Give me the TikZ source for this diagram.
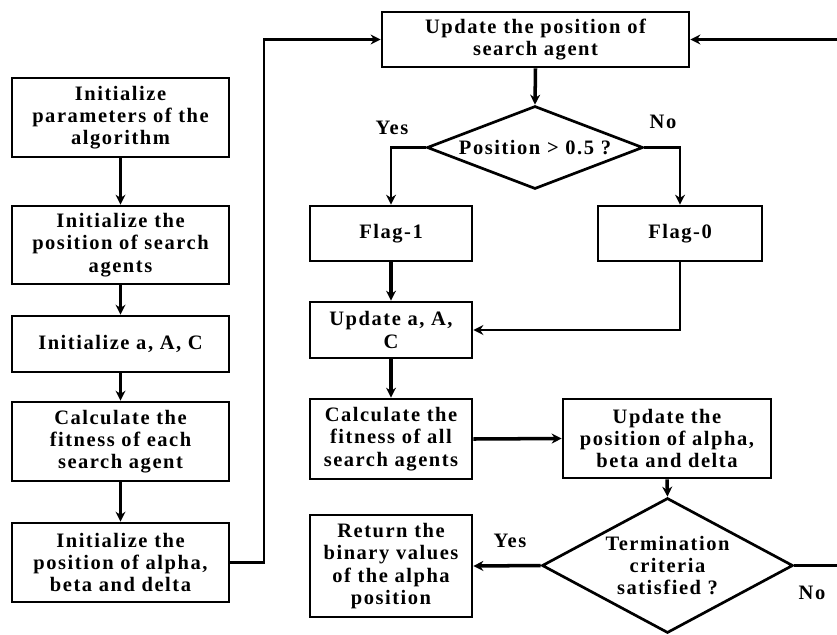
\documentclass[tikz,border=0pt]{standalone}
\usepackage{fontspec}
\setmainfont{Liberation Serif}[LetterSpace=7.5]
\usetikzlibrary{arrows.meta,shapes.geometric}
\tikzset{
  every node/.style={font=\fontsize{17.5}{19}\selectfont\bfseries},
  box/.style={draw, line width=2.3pt, align=center, inner sep=0pt},
  dia/.style={draw, diamond, line width=2.3pt, align=center, inner sep=0pt},
  thick arrow/.style={line width=3pt, -{Stealth[length=0.3cm,width=0.3cm]}},
  thin arrow/.style={line width=1.8pt, -{Stealth[length=0.3cm,width=0.3cm]}},
  lbl/.style={inner sep=0pt}
}
\begin{document}
\begin{tikzpicture}[x=0.03cm,y=-0.03cm]
\useasboundingbox (0,0) rectangle (837,634);
% left column
\node[box, minimum width=6.51cm, minimum height=2.37cm] (b1) at (120.5,117.5) {Initialize\\parameters of the\\algorithm};
\node[box, minimum width=6.51cm, minimum height=2.34cm] (b2) at (120.5,245) {Initialize the\\position of search\\agents};
\node[box, minimum width=6.51cm, minimum height=1.68cm] (b3) at (120.5,344) {Initialize a, A, C};
\node[box, minimum width=6.51cm, minimum height=2.37cm] (b4) at (120.5,441.5) {Calculate the\\fitness of each\\search agent};
\node[box, minimum width=6.51cm, minimum height=2.37cm] (b5) at (120.5,562.5) {Initialize the\\position of alpha,\\beta and delta};
% right part
\node[box, minimum width=9.21cm, minimum height=1.65cm] (top) at (535.5,39.5) {Update the position of\\search agent};
\node[dia, minimum width=6.48cm, minimum height=2.49cm, aspect=2.6] (d1) at (535,147.5) {Position > 0.5 ?};
\node[box, minimum width=4.86cm, minimum height=1.65cm] (f1) at (391,233.5) {Flag-1};
\node[box, minimum width=4.92cm, minimum height=1.65cm] (f0) at (680,233.5) {Flag-0};
\node[box, minimum width=4.86cm, minimum height=1.68cm] (u) at (391,330) {Update a, A,\\C};
\node[box, minimum width=4.86cm, minimum height=2.4cm] (calc) at (391,439) {Calculate the\\fitness of all\\search agents};
\node[box, minimum width=6.24cm, minimum height=2.37cm] (upd) at (667,438.5) {Update the\\position of alpha,\\beta and delta};
\node[dia, minimum width=7.53cm, minimum height=4.05cm, aspect=1.86] (d2) at (667.5,565.5) {Termination\\criteria\\satisfied ?};
\node[box, minimum width=4.86cm, minimum height=3.06cm] (ret) at (391,566) {Return the\\binary values\\of the alpha\\position};
% labels
\node[lbl] (yes1) at (392,128) {Yes};
\node[lbl] (no1) at (663,122) {No};
\node[lbl] (yes2) at (510,541) {Yes};
\node[lbl] (no2) at (812,593) {No};
% coordinates
\coordinate (c1) at (264,562.5);
\coordinate (c2) at (264,39.5);
\coordinate (c3) at (842,565.5);
\coordinate (c4) at (842,39.5);
% connectors
\draw[thick arrow] (b1) -- (b2);
\draw[thick arrow] (b2) -- (b3);
\draw[thick arrow] (b3) -- (b4);
\draw[thick arrow] (b4) -- (b5);
\draw[thin arrow] (b5.east) -- (c1) -- (c2) -- (top.west);
\draw[thick arrow] (top.south) -- (d1.north);
\draw[thin arrow] (d1.west) -| (f1.north);
\draw[thin arrow] (d1.east) -| (f0.north);
\draw[thick arrow] (f1.south) -- (u.north);
\draw[thin arrow] (f0.south) |- (u.east);
\draw[thick arrow] (u.south) -- (calc.north);
\draw[thick arrow] (calc.east) -- (upd.west);
\draw[thick arrow] (upd.south) -- (d2.north);
\draw[thick arrow] (d2.west) -- (ret.east);
\draw[thin arrow] (d2.east) -- (c3) -- (c4) -- (top.east);
\end{tikzpicture}
\end{document}
